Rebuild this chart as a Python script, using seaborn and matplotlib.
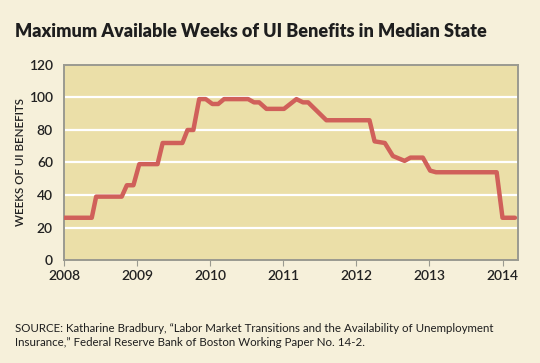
#!/usr/bin/env python3
"""
Maximum available weeks of UI benefits in the median state, 2008-2014
"""

import pandas as pd
import matplotlib
matplotlib.use("Agg")
import matplotlib.pyplot as plt
import seaborn as sns

# values (decimal year, weeks)
years = [2008.00, 2008.38, 2008.44, 2008.79, 2008.86, 2008.95, 2009.03, 2009.28,
         2009.35, 2009.62, 2009.69, 2009.77, 2009.85, 2009.94, 2010.03, 2010.11,
         2010.19, 2010.52, 2010.60, 2010.67, 2010.77, 2011.01, 2011.18, 2011.27,
         2011.34, 2011.59, 2012.18, 2012.25, 2012.39, 2012.50, 2012.66, 2012.74,
         2012.91, 2013.01, 2013.09, 2013.92, 2014.00, 2014.17]
weeks = [26, 26, 39, 39, 46, 46, 59, 59,
         72, 72, 80, 80, 99, 99, 96, 96,
         99, 99, 97, 97, 93, 93, 99, 97,
         97, 86, 86, 73, 72, 64, 61, 63,
         63, 55, 54, 54, 26, 26]
x_ticks = [2008, 2009, 2010, 2011, 2012, 2013, 2014]
y_ticks = [0, 20, 40, 60, 80, 100, 120]

title = "Maximum Available Weeks of UI Benefits in Median State"
ylabel = "WEEKS OF UI BENEFITS"
source = ("SOURCE: Katharine Bradbury, \u201cLabor Market Transitions and the Availability of Unemployment\n"
          "Insurance,\u201d Federal Reserve Bank of Boston Working Paper No. 14-2.")

page_bg = "#f6f0da"
plot_bg = "#ebdfa8"
line_col = "#d0605a"
spine_col = "#9a9a90"

sns.set_style("white")
plt.rcParams['font.family'] = ['Lato', 'DejaVu Sans']

df = pd.DataFrame({"year": years, "weeks": weeks})

fig = plt.figure(figsize=(5.4, 3.63), dpi=100, facecolor=page_bg)
ax = fig.add_axes([0.1185, 0.2837, 0.8405, 0.5373])
ax.set_facecolor(plot_bg)

for v in y_ticks[1:-1]:
    ax.axhline(v, color="white", lw=1.6, zorder=1)

sns.lineplot(data=df, x="year", y="weeks", ax=ax, color=line_col, lw=3.2,
             zorder=3, estimator=None, sort=False)

ax.set_xlim(2008, 2014.21)
ax.set_ylim(0, 120)
ax.set_xticks(x_ticks)
ax.set_xticklabels([str(t) for t in x_ticks])
ax.set_yticks(y_ticks)
ax.tick_params(axis="x", length=4, width=0.8, color=spine_col, pad=3,
               labelsize=10, labelcolor="#222222", direction="out", bottom=True)
ax.tick_params(axis="y", length=0, pad=8, labelsize=10, labelcolor="#222222")
for lab in ax.get_xticklabels() + ax.get_yticklabels():
    lab.set_fontweight("semibold")
ax.set_xlabel("")
ax.set_ylabel(ylabel, fontsize=8.3, fontweight="semibold", color="#222222")
ax.yaxis.set_label_coords(-0.084, 0.5)

for s in ax.spines.values():
    s.set_visible(True)
    s.set_color(spine_col)
    s.set_linewidth(1.4)

fig.text(0.028, 0.912, title, fontsize=13, fontweight="heavy", color="#1e1e1e",
         va="center", ha="left")
fig.text(0.028, 0.075, source, fontsize=8.3, color="#1e1e1e", va="center",
         ha="left", linespacing=1.3)

fig.savefig("out.png", dpi=100, facecolor=page_bg)
